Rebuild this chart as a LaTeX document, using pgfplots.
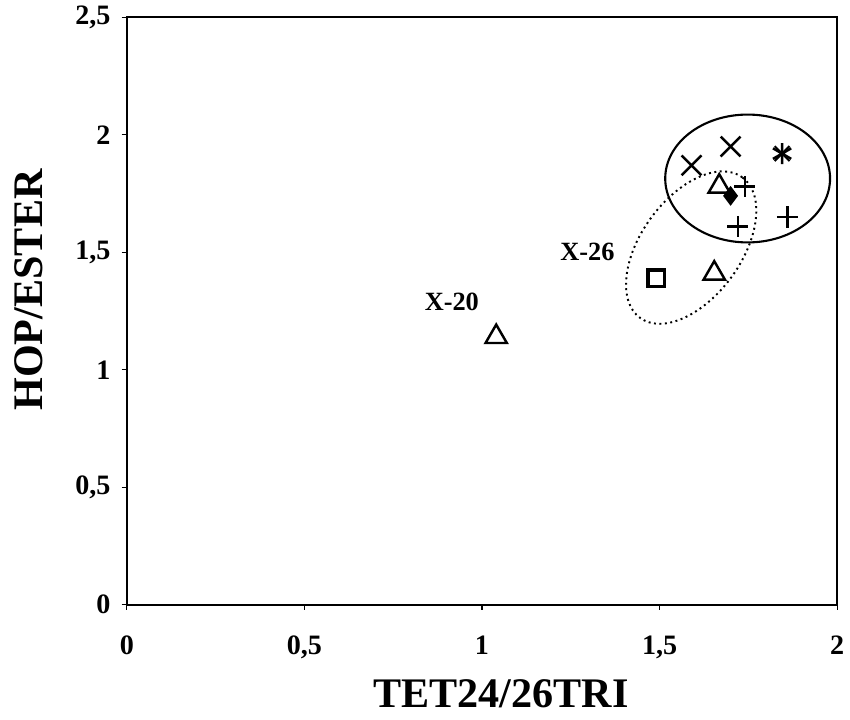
\documentclass[border=0pt]{standalone}
\usepackage{pgfplots}
\pgfplotsset{compat=1.18}
\usepackage{fontspec}
\setmainfont{Liberation Serif}
\usetikzlibrary{plotmarks}
\begin{document}
\begin{tikzpicture}
\begin{axis}[
  scale only axis, width=14.22cm, height=11.76cm,
  xmin=0, xmax=2, ymin=0, ymax=2.5,
  axis line style={line width=1.2pt},
  xtick={0,0.5,1,1.5,2}, xticklabels={0,{0,5},1,{1,5},2},
  ytick={0,0.5,1,1.5,2,2.5}, yticklabels={0,{0,5},1,{1,5},2,{2,5}},
  tick style={black, line width=0.6pt}, tick align=outside, major tick length=3pt,
  xtick pos=bottom, ytick pos=left,
  tick label style={font=\fontsize{16}{18}\selectfont\bfseries},
  xticklabel style={yshift=-0.4cm},
  yticklabel style={xshift=-0.1cm},
  xlabel={TET24/26TRI}, ylabel={HOP/ESTER},
  label style={font=\fontsize{24}{28}\selectfont\bfseries},
  xlabel style={yshift=-0.16cm, xshift=0.38cm},
  ylabel style={yshift=0.4cm, xshift=0.42cm},
  clip=false,
]
% triangles
\addplot[only marks, mark=triangle, mark size=7pt, line width=1.4pt, mark options={solid}] coordinates {
 (1.04,1.14) (1.654,1.41) (1.668,1.78)
};
% square
\addplot[only marks, mark=square, mark size=4.6pt, line width=1.8pt] coordinates {(1.49,1.39)};
% diamond filled
\addplot[only marks, mark=diamond*, mark size=5pt, fill=black, line width=0.8pt] coordinates {(1.70,1.74)};
% plus
\addplot[only marks, mark=+, mark size=6pt, line width=1.3pt] coordinates {
 (1.74,1.78) (1.72,1.61) (1.86,1.65)
};
% x
\addplot[only marks, mark=x, mark size=8pt, line width=1.4pt] coordinates {
 (1.59,1.87) (1.70,1.95)
};
% asterisk
\addplot[only marks, mark=asterisk, mark size=6pt, line width=1.4pt] coordinates {(1.845,1.92)};
\addplot[only marks, mark=x, mark size=6pt, line width=1.2pt] coordinates {(1.845,1.92)};
% ellipses
\draw[line width=1.2pt] (axis cs:1.748,1.814) ellipse [x radius=1.65cm, y radius=1.28cm];
\draw[line width=1.1pt, dotted] (axis cs:1.589,1.52) ellipse [x radius=1.74cm, y radius=1.0cm, rotate=54];
\node[font=\fontsize{15}{17}\selectfont\bfseries] at (axis cs:0.915,1.29) {X-20};
\node[font=\fontsize{15}{17}\selectfont\bfseries] at (axis cs:1.297,1.503) {X-26};
\end{axis}
\path (current axis.south west) ++(-2.54cm,-2.3cm) coordinate (bl);
\path (current axis.north east) ++(0.24cm,0.34cm) coordinate (tr);
\useasboundingbox (bl) rectangle (tr);
\end{tikzpicture}
\end{document}
